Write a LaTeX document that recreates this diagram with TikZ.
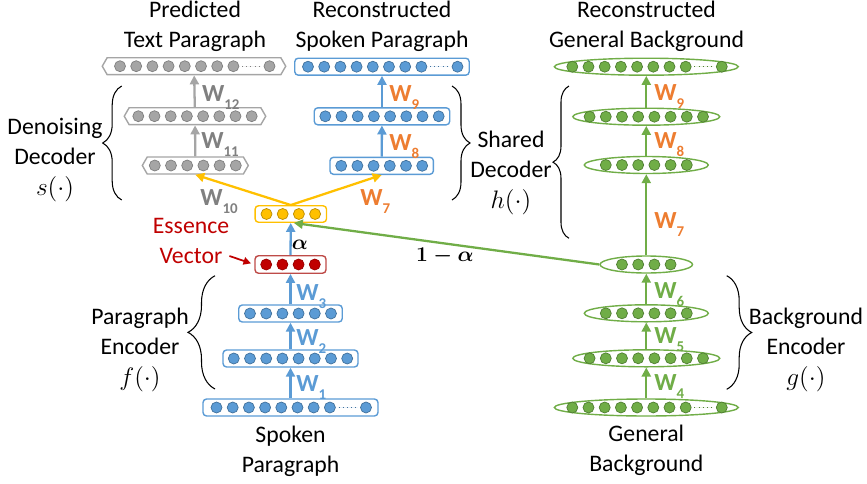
\documentclass[tikz,border=0pt]{standalone}
\usepackage{fontspec}
\usepackage{amsmath}
\setmainfont{Carlito}
\usetikzlibrary{shapes.geometric, shapes.symbols, arrows, arrows.meta, decorations.pathreplacing}

\definecolor{layblue}{HTML}{5B9BD5}
\definecolor{blueedge}{HTML}{41719C}
\definecolor{laygray}{HTML}{A5A5A5}
\definecolor{grayedge}{HTML}{7F7F7F}
\definecolor{wgray}{HTML}{808080}
\definecolor{laygreen}{HTML}{70AD47}
\definecolor{greenedge}{HTML}{507E32}
\definecolor{laygold}{HTML}{FFC000}
\definecolor{goldedge}{HTML}{BC8C00}
\definecolor{essred}{HTML}{C00000}
\definecolor{redframe}{HTML}{BE4B48}
\definecolor{worange}{HTML}{ED7D31}

\tikzstyle{bluelayer} = [rectangle, rounded corners=2pt, minimum height=0.34cm, inner sep=0pt, draw=layblue, line width=0.8pt]
\tikzstyle{graylayer} = [signal, signal to=west and east, signal pointer angle=120, minimum height=0.34cm, inner sep=0pt, draw=laygray, line width=0.8pt]
\tikzstyle{greenlayer} = [ellipse, minimum height=0.34cm, inner sep=0pt, draw=laygreen, line width=0.8pt]
\tikzstyle{goldlayer} = [bluelayer, draw=laygold]
\tikzstyle{redlayer} = [bluelayer, draw=redframe]
\tikzstyle{bluedot} = [fill=layblue, draw=blueedge, line width=0.4pt]
\tikzstyle{graydot} = [fill=laygray, draw=grayedge, line width=0.4pt]
\tikzstyle{greendot} = [fill=laygreen, draw=greenedge, line width=0.4pt]
\tikzstyle{golddot} = [fill=laygold, draw=goldedge, line width=0.4pt]
\tikzstyle{reddot} = [fill=essred, draw=essred!80!black, line width=0.4pt]
\tikzstyle{bluearrow} = [line width=1.3pt, ->, >={Triangle[length=1.8mm, width=1.8mm]}, draw=layblue]
\tikzstyle{grayarrow} = [bluearrow, draw=laygray]
\tikzstyle{greenarrow} = [bluearrow, draw=laygreen]
\tikzstyle{goldarrow} = [bluearrow, draw=laygold]
\tikzstyle{redarrow} = [line width=1pt, ->, >={Triangle[length=1.5mm, width=1.5mm]}, draw=essred, shorten >=2pt]
\tikzstyle{caption} = [align=center, inner sep=0pt]
\tikzstyle{wlabel} = [anchor=base west, inner sep=0pt, font=\fontsize{14}{14}\selectfont\bfseries]
\tikzstyle{brace} = [decorate, line width=0.6pt]

% n dots centred on x
\newcommand{\dotrow}[4]{\foreach \k in {1,...,#3} \filldraw[#4] ({#1+(\k-(#3+1)/2)*16.2},#2) circle (0.11cm);}
% 8 dots, a dotted gap and one last dot
\newcommand{\longrow}[3]{%
  \foreach \k in {0,...,7} \filldraw[#3] ({#1-74+\k*16.2},#2) circle (0.11cm);
  \draw[#3, dotted, line width=0.7pt] ({#1+48},#2) -- ({#1+67},#2);
  \filldraw[#3] ({#1+75.5},#2) circle (0.11cm);}
\newcommand{\wsub}[1]{W\raisebox{-0.16cm}{\fontsize{8.5}{8.5}\selectfont #1}}
\newcommand{\fname}[1]{{\fontsize{14.5}{16.9}\selectfont$#1(\cdot)$}}

\begin{document}
\begin{tikzpicture}[x=0.02cm, y=-0.02cm, font=\fontsize{13.5}{16.9}\selectfont]

    \useasboundingbox (0,0) rectangle (867,484);

    % paragraph encoder
    \node (spin) [bluelayer, minimum width=3.5cm] at (290.5,407.5) {};
    \node (spa) [bluelayer, minimum width=2.7cm] at (290.5,358.5) {};
    \node (spb) [bluelayer, minimum width=2.07cm] at (290.5,313.5) {};
    \node (essence) [redlayer, minimum width=1.42cm, minimum height=0.35cm] at (290.5,264.5) {};
    \node (mix) [goldlayer, minimum width=1.43cm, minimum height=0.33cm] at (290.8,214) {};

    % denoising decoder
    \node (dena) [graylayer, minimum width=2.12cm] at (195.3,165.5) {};
    \node (denb) [graylayer, minimum width=2.83cm] at (195,116.2) {};
    \node (textout) [graylayer, minimum width=3.67cm] at (194,66.2) {};

    % shared decoder, spoken side
    \node (shda) [bluelayer, minimum width=2.07cm] at (381.7,165.8) {};
    \node (shdb) [bluelayer, minimum width=2.71cm] at (382,116.3) {};
    \node (spout) [bluelayer, minimum width=3.49cm] at (382,66.7) {};

    % background side
    \node (bgout) [greenlayer, minimum width=3.68cm] at (646.3,66.7) {};
    \node (bgdb) [greenlayer, minimum width=2.94cm] at (646.3,116.7) {};
    \node (bgda) [greenlayer, minimum width=2.48cm] at (646.3,165) {};
    \node (bgcode) [greenlayer, minimum width=1.85cm] at (646.3,264.5) {};
    \node (bgeb) [greenlayer, minimum width=2.48cm] at (646.3,313.3) {};
    \node (bgea) [greenlayer, minimum width=2.94cm] at (646.3,358.3) {};
    \node (bgin) [greenlayer, minimum width=3.68cm] at (646.3,407.5) {};

    \longrow{290.5}{407.5}{bluedot}
    \dotrow{290.5}{358.5}{8}{bluedot}
    \dotrow{290.5}{313.5}{6}{bluedot}
    \dotrow{290.5}{264.5}{4}{reddot}
    \dotrow{290.8}{214}{4}{golddot}
    \dotrow{195.3}{165.5}{6}{graydot}
    \dotrow{195}{116.2}{8}{graydot}
    \longrow{194}{66.2}{graydot}
    \dotrow{381.7}{165.8}{6}{bluedot}
    \dotrow{382}{116.3}{8}{bluedot}
    \longrow{382}{66.7}{bluedot}
    \longrow{646.3}{66.7}{greendot}
    \dotrow{646.3}{116.7}{8}{greendot}
    \dotrow{646.3}{165}{6}{greendot}
    \dotrow{646.3}{264.5}{4}{greendot}
    \dotrow{646.3}{313.3}{6}{greendot}
    \dotrow{646.3}{358.3}{8}{greendot}
    \longrow{646.3}{407.5}{greendot}

    % texts
    \node (predtitle) [caption] at (195,26) {Predicted\\Text Paragraph};
    \node (spouttitle) [caption] at (382,26) {Reconstructed\\Spoken Paragraph};
    \node (bgouttitle) [caption] at (646.5,26) {Reconstructed\\General Background};
    \node (denname) [caption] at (55,160) {Denoising\\Decoder\\[1pt]\fname{s}};
    \node (shdname) [caption] at (511,173) {Shared\\Decoder\\[1pt]\fname{h}};
    \node (essname) [caption, text=essred] at (191,241) {Essence\\Vector};
    \node (encname) [caption] at (140,350) {Paragraph\\Encoder\\[1pt]\fname{f}};
    \node (bgename) [caption] at (806,350) {Background\\Encoder\\[1pt]\fname{g}};
    \node (spinname) [caption] at (290.5,451) {Spoken\\Paragraph};
    \node (bginname) [caption] at (646.3,450) {General\\Background};
    \node (alpha) [font=\fontsize{12}{12}\selectfont] at (300,245) {$\boldsymbol{\alpha}$};
    \node (beta) [font=\fontsize{11.5}{12}\selectfont] at (445,256) {$\boldsymbol{1-\alpha}$};

    % weights
    \node (w1) [wlabel, text=layblue] at (296,391) {\wsub{1}};
    \node (w2) [wlabel, text=layblue] at (296,345) {\wsub{2}};
    \node (w3) [wlabel, text=layblue] at (296,300) {\wsub{3}};
    \node (w4) [wlabel, text=laygreen] at (654,390.7) {\wsub{4}};
    \node (w5) [wlabel, text=laygreen] at (654,343.3) {\wsub{5}};
    \node (w6) [wlabel, text=laygreen] at (654,298.3) {\wsub{6}};
    \node (w7) [wlabel, text=worange] at (360,205) {\wsub{7}};
    \node (w8) [wlabel, text=worange] at (389,150) {\wsub{8}};
    \node (w9) [wlabel, text=worange] at (389,101.7) {\wsub{9}};
    \node (gw7) [wlabel, text=worange] at (654,228.3) {\wsub{7}};
    \node (gw8) [wlabel, text=worange] at (654,148.3) {\wsub{8}};
    \node (gw9) [wlabel, text=worange] at (654,100) {\wsub{9}};
    \node (w10) [wlabel, text=wgray] at (200,205.7) {\wsub{10}};
    \node (w11) [wlabel, text=wgray] at (201,148.3) {\wsub{11}};
    \node (w12) [wlabel, text=wgray] at (201.7,101.7) {\wsub{12}};

    % arrows
    \draw [bluearrow] (spin) -- (spa);
    \draw [bluearrow] (spa) -- (spb);
    \draw [bluearrow] (spb) -- (essence);
    \draw [bluearrow] (essence) -- (mix);
    \draw [goldarrow] (mix.north) -- (dena.south);
    \draw [goldarrow] (mix.north) -- (shda.south);
    \draw [grayarrow] (dena) -- (denb);
    \draw [grayarrow] (denb) -- (textout);
    \draw [bluearrow] (shda) -- (shdb);
    \draw [bluearrow] (shdb) -- (spout);
    \draw [greenarrow] (bgin) -- (bgea);
    \draw [greenarrow] (bgea) -- (bgeb);
    \draw [greenarrow] (bgeb) -- (bgcode);
    \draw [greenarrow] (bgcode) -- (bgda);
    \draw [greenarrow] (bgda) -- (bgdb);
    \draw [greenarrow] (bgdb) -- (bgout);
    \draw [greenarrow] (bgcode.west) -- ([xshift=0.06cm]mix.south);
    \draw [redarrow] ([yshift=-0.3cm]essname.east) -- (essence.west);

    % braces
    \draw [brace, decoration={brace, amplitude=0.38cm}] (121.7,200) -- (121.7,86);
    \draw [brace, decoration={brace, amplitude=0.54cm}] (215,389) -- (215,275.7);
    \draw [brace, decoration={brace, amplitude=0.36cm}] (452,86) -- (452,200);
    \draw [brace, decoration={brace, amplitude=0.32cm}] (569,238.3) -- (569,86);
    \draw [brace, decoration={brace, amplitude=0.5cm}] (726.7,275.7) -- (726.7,389.3);

\end{tikzpicture}
\end{document}
